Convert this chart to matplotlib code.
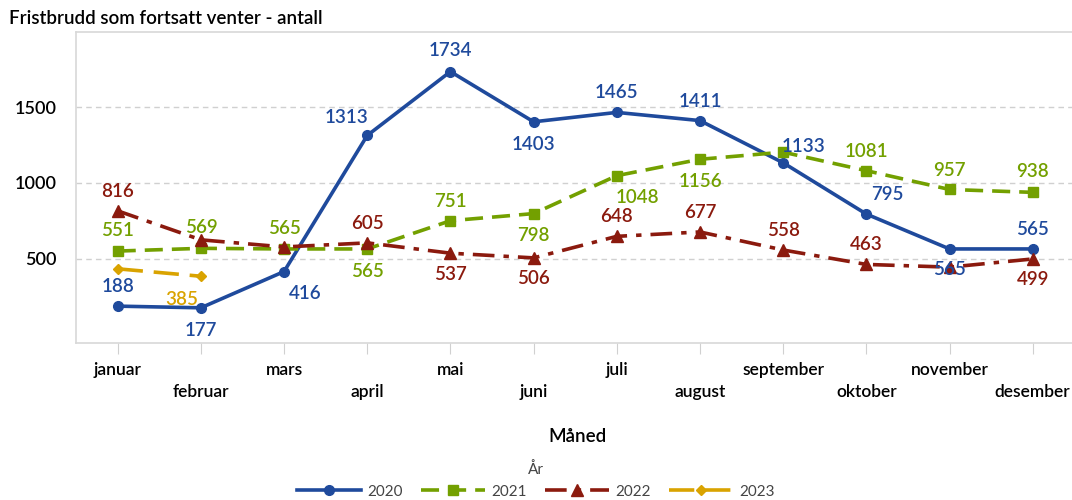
import matplotlib.pyplot as plt

months = ["januar", "februar", "mars", "april", "mai", "juni",
          "juli", "august", "september", "oktober", "november", "desember"]

v2020 = [188, 177, 416, 1313, 1734, 1403, 1465, 1411, 1133, 795, 565, 565]
v2021 = [551, 569, 565, 565, 751, 798, 1048, 1156, 1203, 1081, 957, 938]
v2022 = [816, 625, 578, 605, 537, 506, 648, 677, 558, 463, 445, 499]
v2023 = [434, 385]

# label placement per point (offset in points), None = hidden in the original
pos2020 = [(0, 14), (0, -16), (15, -16), (-15, 13), (0, 15), (0, -16),
           (0, 14), (0, 14), (15, 12), (15, 14), (0, -15), (0, 14)]
pos2021 = [(0, 15), (0, 15), (0, 15), (0, -16), (0, 14), (0, -16),
           (15, -16), (0, -16), None, (0, 14), (0, 14), (0, 15)]
pos2022 = [(0, 14), None, None, (0, 14), (0, -15), (0, -15),
           (0, 14), (0, 14), (0, 14), (0, 14), None, (0, -15)]
pos2023 = [None, (-14, -17)]

series = [
    ("2020", v2020, pos2020, "#1F4A9C", "-", "o", 7),
    ("2021", v2021, pos2021, "#73A000", (0, (5, 2.5)), "s", 7),
    ("2022", v2022, pos2022, "#8B1A0E", (0, (6, 2.5, 1.5, 2.5)), "^", 8),
    ("2023", v2023, pos2023, "#D9A300", (0, (7, 3)), "D", 5.5),
]

plt.rcParams["font.family"] = ["Lato", "DejaVu Sans"]

fig = plt.figure(figsize=(10.72, 5), dpi=100)
ax = fig.add_axes([0.071, 0.314, 0.935, 0.622])

for name, vals, pos, col, ls, mk, ms in series:
    x = list(range(len(vals)))
    ax.plot(x, vals, color=col, linestyle=ls, linewidth=2.6, marker=mk,
            markersize=ms, label=name, zorder=3)
    for i, v in enumerate(vals):
        if pos[i] is None:
            continue
        dx, dy = pos[i]
        ax.annotate(str(v), (i, v), xytext=(dx, dy), textcoords="offset points",
                    ha="center", va="center", color=col, fontsize=13.5,
                    fontweight="semibold", zorder=4)

ax.set_xlim(-0.5, 11.55)
ax.set_ylim(-55, 1995)
ax.set_yticks([500, 1000, 1500])
ax.set_yticklabels(["500", "1000", "1500"], fontsize=13, fontweight="semibold")
ax.yaxis.grid(True, color="#D0D0D0", linestyle=(0, (4, 3)), linewidth=1)
ax.set_axisbelow(True)
ax.tick_params(axis="y", length=0, pad=14)

ax.set_xticks(range(12))
ax.set_xticklabels([m if i % 2 == 0 else "\n" + m for i, m in enumerate(months)],
                   fontsize=12.5, fontweight="semibold", linespacing=1.45)
ax.tick_params(axis="x", length=8, color="#D0D0D0", pad=6)

for s in ax.spines.values():
    s.set_color("#D8D8D8")
    s.set_linewidth(1.2)

ax.set_xlabel("Måned", fontsize=13.5, fontweight="semibold", labelpad=20)

fig.text(0.008, 0.962, "Fristbrudd som fortsatt venter - antall",
         fontsize=13.5, fontweight="semibold", ha="left", va="center")

leg = fig.legend(loc="lower center", bbox_to_anchor=(0.5, -0.025), ncol=4,
                 frameon=False, title="År", fontsize=11, title_fontsize=11,
                 handlelength=4.2, columnspacing=1.2, handletextpad=0.4)
for t in leg.get_texts():
    t.set_color("#444444")
leg.get_title().set_color("#444444")

fig.savefig("out.png", dpi=100)
